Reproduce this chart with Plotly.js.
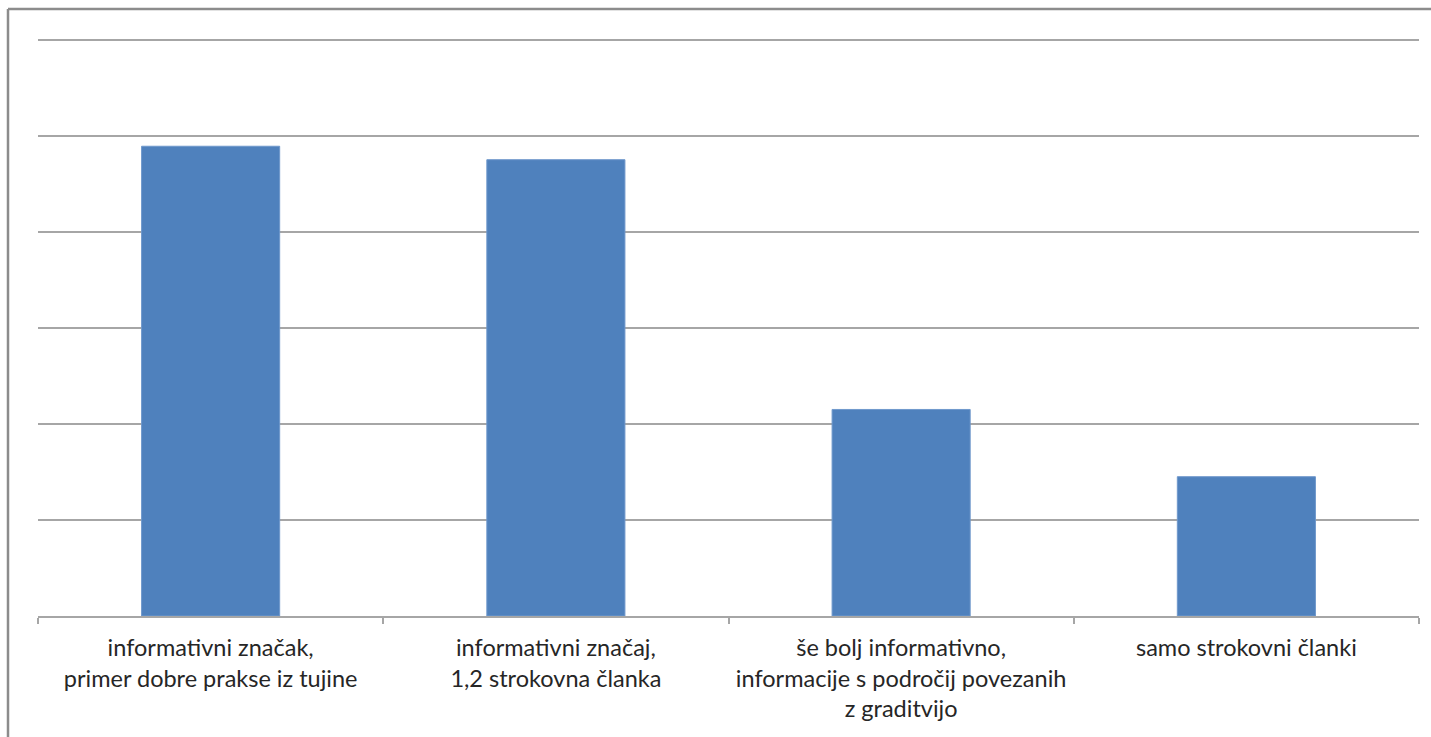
<!DOCTYPE html>
<html>
<head>
<meta charset="utf-8">
<script src="https://cdn.plot.ly/plotly-3.0.1.min.js"></script>
<style>html,body{margin:0;padding:0;background:#fff;}#chart{width:1431px;height:737px;}</style>
</head>
<body>
<div id="chart"></div>
<script>
const categories = [
  "informativni značak,<br>primer dobre prakse iz tujine",
  "informativni značaj,<br>1,2 strokovna članka",
  "še bolj informativno,<br>informacije s področij povezanih<br>z graditvijo",
  "samo strokovni članki"
];
const values = [4.89, 4.75, 2.15, 1.45];

const W = 1431, H = 737;
const YMAX = 6.1;
const L = 38, R = 12, B = 121;
const T = Math.round((616 - 576 * YMAX / 6) * 10) / 10;
const pw = W - L - R, ph = H - T - B;
const px = x => (x - L) / pw;
const py = y => (H - B - y) / ph;

Plotly.newPlot('chart', [{
  type: 'bar',
  x: categories,
  y: values,
  marker: {color: '#4F81BD', line: {color: '#6f98cc', width: 1}},
  hoverinfo: 'skip'
}], {
  width: W, height: H,
  margin: {l: L, r: R, t: T, b: B, pad: 0},
  paper_bgcolor: '#ffffff',
  plot_bgcolor: '#ffffff',
  bargap: 0.6,
  showlegend: false,
  font: {family: 'Lato, "Open Sans", sans-serif', size: 24, color: '#262626'},
  xaxis: {
    type: 'category',
    showgrid: false,
    showline: true,
    linecolor: '#a6a6a6',
    linewidth: 2,
    ticks: 'outside',
    tickson: 'boundaries',
    ticklen: 6,
    tickcolor: '#a6a6a6',
    tickwidth: 2,
    ticklabelstandoff: 10,
    tickfont: {family: 'Lato, "Open Sans", sans-serif', size: 23.5, color: '#262626'},
    automargin: false
  },
  yaxis: {
    range: [0, YMAX],
    tick0: 0,
    dtick: 1,
    showgrid: true,
    gridcolor: '#a6a6a6',
    gridwidth: 2,
    showticklabels: false,
    zeroline: false,
    showline: false,
    fixedrange: true
  },
  shapes: [
    {type: 'line', xref: 'paper', yref: 'paper', x0: px(8), x1: px(W + 5), y0: py(9.5), y1: py(9.5), line: {color: '#8c8c8c', width: 2.5}},
    {type: 'line', xref: 'paper', yref: 'paper', x0: px(8), x1: px(8), y0: py(9.5), y1: py(H + 5), line: {color: '#8c8c8c', width: 2.5}}
  ]
}, {displayModeBar: false, staticPlot: true});
</script>
</body>
</html>
